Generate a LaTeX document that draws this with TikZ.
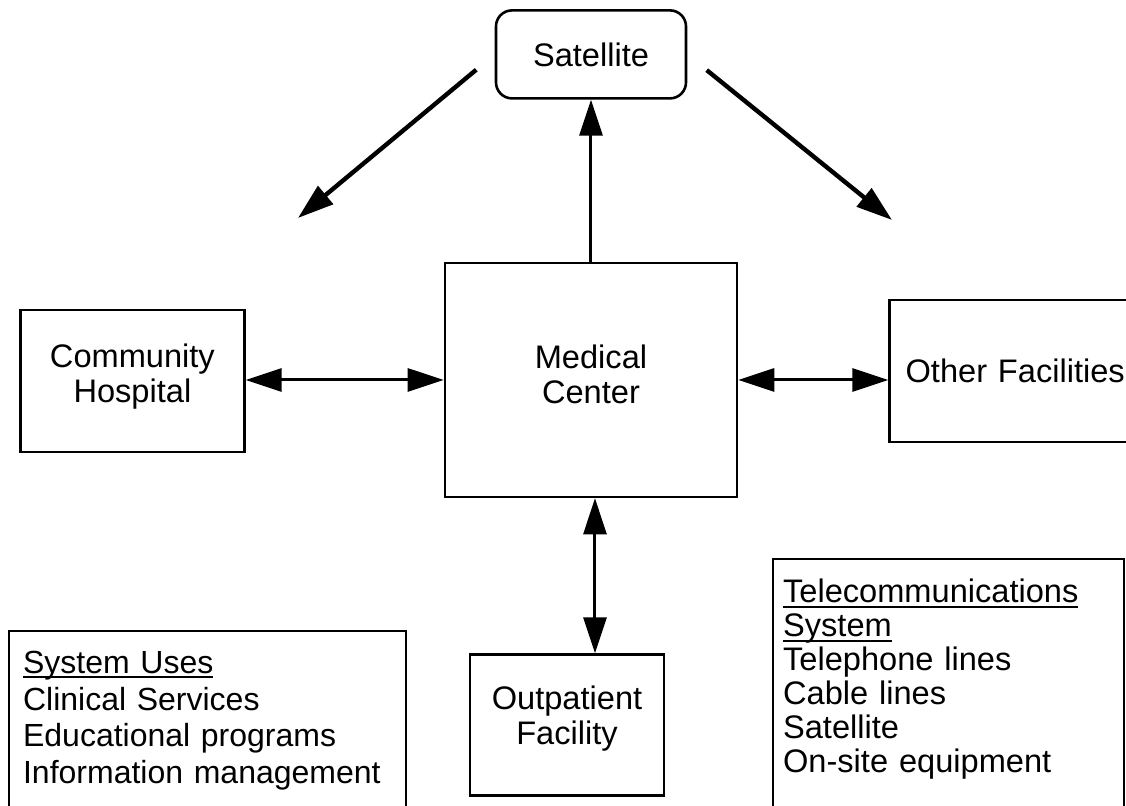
\documentclass[tikz,border=0pt]{standalone}
\usepackage{fontspec}
\setmainfont{Liberation Sans}
\usetikzlibrary{arrows.meta, positioning}

\newsavebox{\ulbox}
\newcommand{\ulabel}[1]{\leavevmode\sbox{\ulbox}{#1}\rlap{\rule[-2.4pt]{\wd\ulbox}{0.9pt}}\usebox{\ulbox}}

\begin{document}
\begin{tikzpicture}[
                box/.style={draw, line width=1.3pt, minimum width=112pt, minimum height=71pt, align=center, font=\fontsize{16.3}{17.5}\selectfont},
                listbox/.style={draw, line width=1.1pt, anchor=north west, align=left},
                arrow/.style={-{Triangle[length=18pt, width=11.5pt]}, line width=1.5pt},
                both/.style={{Triangle[length=18pt, width=11.5pt]}-{Triangle[length=18pt, width=11.5pt]}, line width=1.5pt}]

                \useasboundingbox (-295.5pt,-213pt) rectangle (267.5pt,190pt);
                \clip (-295.5pt,-213pt) rectangle (267.5pt,190pt);

                % Entities
                \node[box, minimum width=146pt, minimum height=117pt, text depth=5.5pt] (medical) {Medical\\Center};
                \node[box, left=99pt of medical, yshift=-0.5pt, text depth=8pt] (community) {Community\\Hospital};
                \node[box, minimum width=130pt, text width=114pt, inner xsep=8pt, align=left, right=75pt of medical, yshift=4.5pt] (other) {Other Facilities};
                \node[box, rounded corners=8pt, minimum width=95pt, minimum height=44pt, above=81pt of medical] (satellite) {Satellite};
                \node[box, minimum width=97pt, minimum height=70.5pt, below=77.5pt of medical, xshift=-12pt, text depth=9.5pt] (outpatient) {Outpatient\\Facility};

                % Lists
                \node[listbox, text width=184.5pt, inner xsep=7pt, inner ysep=10pt, font=\fontsize{16}{18.3}\selectfont] (uses) at (-291.5pt,-125pt)
                    {\ulabel{System Uses}\\Clinical Services\\Educational programs\\Information management};
                \node[listbox, text width=165.5pt, inner xsep=5pt, inner ysep=10pt, font=\fontsize{16.3}{17}\selectfont] (telecom) at (90.5pt,-89pt)
                    {\ulabel{Telecommunications}\\\ulabel{System}\\Telephone lines\\Cable lines\\Satellite\\On-site equipment\rule[-20pt]{0pt}{20pt}};

                % Free ends of the broadcast arrows
                \coordinate (toleft) at (-146.5pt,81pt);
                \coordinate (toright) at (150.5pt,80pt);

                % Links
                \draw[arrow] (medical.north) -- (satellite.south);
                \draw[arrow, line width=2.2pt, shorten <=12pt] (satellite.west) -- (toleft);
                \draw[arrow, line width=2.2pt, shorten <=12.5pt] (satellite.east) -- (toright);
                \draw[both] (medical.west -| community.east) -- (medical.west);
                \draw[both] (medical.east) -- (medical.east -| other.west);
                \draw[both] ([xshift=2pt]medical.south) -- ([xshift=2pt]medical.south |- outpatient.north);
            \end{tikzpicture}
\end{document}
